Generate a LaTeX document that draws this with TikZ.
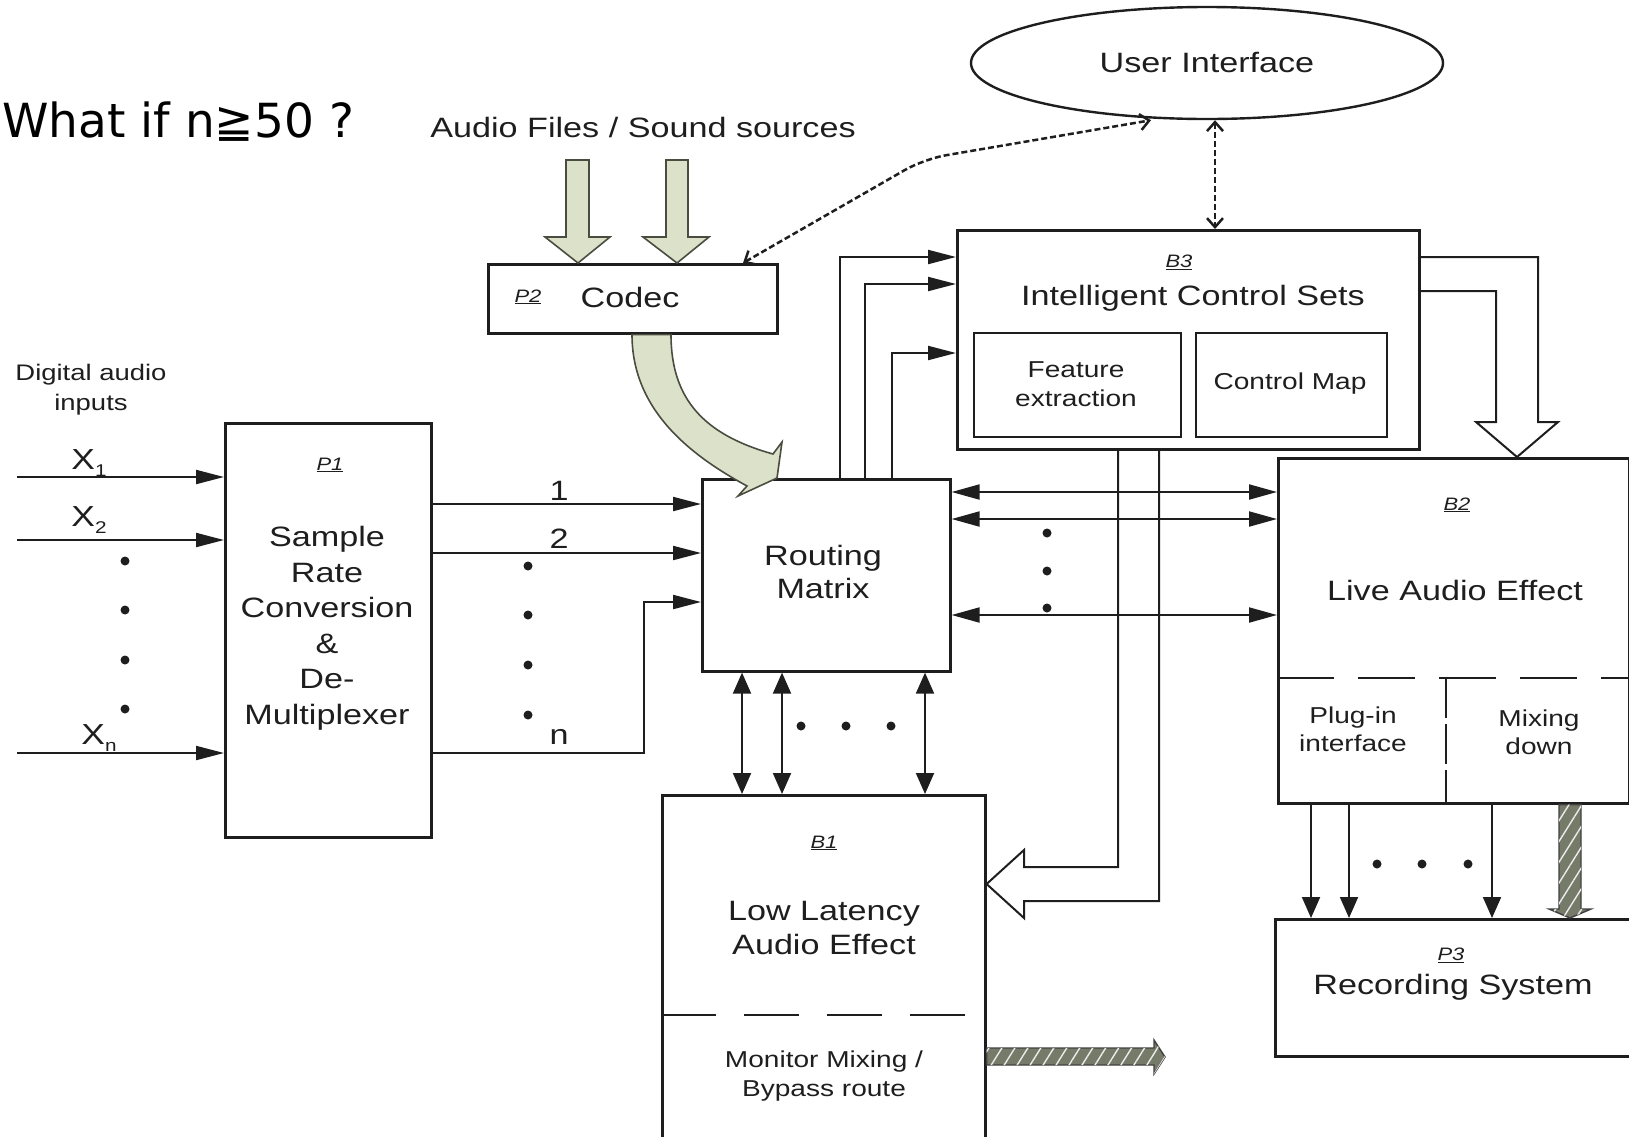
\documentclass[tikz,border=0pt]{standalone}
\usepackage{fontspec}
\setmainfont{Liberation Sans}
\newfontfamily\arx[FakeStretch=1.22]{Liberation Sans}
\newfontfamily\dvs{DejaVu Sans}
\usetikzlibrary{arrows.meta,patterns.meta,shapes.geometric}
\definecolor{ink}{HTML}{1E1E1E}
\definecolor{sage}{HTML}{DCE1C9}
\definecolor{sageline}{HTML}{4A4C40}
\definecolor{hatchfill}{HTML}{767A68}
\newcommand\xsub[1]{X\raisebox{-7pt}{\fontsize{17}{17}\selectfont #1}}

\begin{document}
\begin{tikzpicture}[x=1pt,y=-1pt,
  box/.style={draw=ink, line width=2.6pt, rectangle, inner sep=0pt, anchor=north west},
  t28/.style={font=\arx\fontsize{28}{34}\selectfont, text=ink, align=center, inner sep=0pt},
  t23/.style={font=\arx\fontsize{23}{29}\selectfont, text=ink, align=center, inner sep=0pt},
  t21/.style={font=\arx\fontsize{22.5}{30}\selectfont, text=ink, align=center, inner sep=0pt},
  tag/.style={font=\arx\itshape\fontsize{18}{20}\selectfont, text=ink, inner sep=0pt},
  dot/.style={circle, fill=ink, inner sep=0pt, minimum size=9pt},
  wire/.style={draw=ink, line width=2pt},
  harr/.style={wire, -{Triangle[length=28pt,width=14pt]}},
  hdbl/.style={wire, {Triangle[length=28pt,width=15pt]}-{Triangle[length=28pt,width=15pt]}},
  varr/.style={wire, -{Triangle[length=21pt,width=18pt]}},
  vdbl/.style={wire, {Triangle[length=21pt,width=18pt]}-{Triangle[length=21pt,width=18pt]}},
  dotted link/.style={draw=ink, line width=2.5pt, dash pattern=on 6pt off 3pt,
    {Straight Barb[length=9pt,width=16pt]}-{Straight Barb[length=9pt,width=16pt]}},
  hollow/.style={draw=ink, line width=2pt, line join=miter},
  greenarrow/.style={fill=sage, draw=sageline, line width=1.6pt, line join=miter},
  hatched/.style={fill=hatchfill, draw=ink!85, line width=1.4pt},
  hatchlines/.style={pattern={Lines[angle=58,distance=11pt,line width=1.4pt]}, pattern color=white!85!gray},
]
\useasboundingbox (0,0) rectangle (1629,1136);
\clip (0,0) rectangle (1629,1136);

% ---------- headings ----------
\node[anchor=base west, inner sep=0pt, font=\dvs\fontsize{47}{50}\selectfont, text=black]
  (question) at (2,137) {What if n≧50 ?};
\node[anchor=base, t28] (srclbl) at (643,137) {Audio Files / Sound sources};
\node[t21] (inlbl) at (91,390) {Digital audio\\inputs};

% ---------- blocks ----------
\node[box, minimum width=206pt, minimum height=414pt] (p1) at (224,422) {};
\node[tag] (p1tag) at (330,465) {\underline{P1}};
\node[t28, font=\arx\fontsize{28}{35.5}\selectfont] (p1txt) at (327,628)
  {Sample\\Rate\\Conversion\\\&\\De-\\Multiplexer};

\node[box, minimum width=289pt, minimum height=69pt] (p2) at (487,263) {};
\node[tag] (p2tag) at (528,297) {\underline{P2}};
\node[t28] (p2txt) at (630,297) {Codec};

\node[box, minimum width=248pt, minimum height=192pt] (rm) at (701,478) {};
\node[t28, font=\arx\fontsize{28}{33}\selectfont] (rmtxt) at (823,572) {Routing\\Matrix};

\node[box, minimum width=462pt, minimum height=219pt] (b3) at (956,229) {};
\node[tag] (b3tag) at (1179,262) {\underline{B3}};
\node[t28] (b3txt) at (1193,298) {Intelligent Control Sets};
\node[box, line width=2.4pt, minimum width=207pt, minimum height=104pt] (fe) at (973,332) {};
\node[t23] (fetxt) at (1076,384) {Feature\\extraction};
\node[box, line width=2.4pt, minimum width=191pt, minimum height=104pt] (cm) at (1195,332) {};
\node[t23] (cmtxt) at (1290,384) {Control Map};

\node[box, minimum width=351pt, minimum height=345pt] (b2) at (1277,457) {};
\node[tag] (b2tag) at (1457,505) {\underline{B2}};
\node[t28] (b2txt) at (1455,590) {Live Audio Effect};
\node[t23, font=\arx\fontsize{23}{28}\selectfont] (plugtxt) at (1353,729) {Plug-in\\interface};
\node[t23, font=\arx\fontsize{23}{28}\selectfont] (mixtxt) at (1539,732) {Mixing\\down};

\node[box, minimum width=376pt, minimum height=137pt] (p3) at (1274,918) {};
\node[tag] (p3tag) at (1451,955) {\underline{P3}};
\node[t28] (p3txt) at (1453,987) {Recording System};

\node[box, minimum width=323pt, minimum height=366pt] (b1) at (661,794) {};
\node[tag] (b1tag) at (824,843) {\underline{B1}};
\node[t28] (b1txt) at (824,928) {Low Latency\\Audio Effect};
\node[t23] (b1sub) at (824,1076) {Monitor Mixing /\\Bypass route};

\node[draw=ink, line width=2.4pt, ellipse, minimum width=472pt, minimum height=112pt,
  inner sep=0pt, t28] (ui) at (1207,63) {User Interface};

% ---------- section dividers ----------
\draw[ink, line width=2.4pt, dash pattern=on 55pt off 28pt] (b1.west |- 0,1015) -- (967,1015);
\draw[ink, line width=2.4pt, dash pattern=on 57pt off 24pt] (b2.west |- 0,678) -- (b2.east |- 0,678);
\draw[ink, line width=2pt, dash pattern=on 40pt off 6pt] (1446,678) -- (b2.south -| 1446,0);

% ---------- digital inputs ----------
\coordinate (ina) at (17,477);
\coordinate (inb) at (17,540);
\coordinate (inn) at (17,753);
\draw[harr] (ina) -- (ina -| p1.west);
\draw[harr] (inb) -- (inb -| p1.west);
\draw[harr] (inn) -- (inn -| p1.west);
\node[t28, font=\arx\fontsize{29}{30}\selectfont] (xla) at (89,463) {\xsub{1}};
\node[t28, font=\arx\fontsize{29}{30}\selectfont] (xlb) at (89,520) {\xsub{2}};
\node[t28, font=\arx\fontsize{29}{30}\selectfont] (xln) at (99,738) {\xsub{n}};
\node[dot] (ida) at (125,561) {};
\node[dot] (idb) at (125,610) {};
\node[dot] (idc) at (125,660) {};
\node[dot] (idd) at (125,709) {};

% ---------- P1 to routing matrix ----------
\draw[harr] (p1.east |- 0,504) -- (rm.west |- 0,504);
\draw[harr] (p1.east |- 0,553) -- (rm.west |- 0,553);
\draw[harr] (p1.east |- 0,753) -| (644,602) -- (rm.west |- 0,602);
\node[t28] (cha) at (559,491) {1};
\node[t28] (chb) at (559,539) {2};
\node[t28] (chn) at (559,737) {n};
\node[dot] (oda) at (528,566) {};
\node[dot] (odb) at (528,615) {};
\node[dot] (odc) at (528,665) {};
\node[dot] (odd) at (528,715) {};

% ---------- routing matrix to B3 ----------
\draw[harr] ([xshift=14pt]rm.north) |- (b3.west |- 0,257);
\draw[harr] ([xshift=39pt]rm.north) |- (b3.west |- 0,284);
\draw[harr] ([xshift=66pt]rm.north) |- (b3.west |- 0,353);

% ---------- routing matrix <-> B2 ----------
\draw[hdbl] (rm.east |- 0,492) -- (b2.west |- 0,492);
\draw[hdbl] (rm.east |- 0,519) -- (b2.west |- 0,519);
\draw[hdbl] (rm.east |- 0,615) -- (b2.west |- 0,615);
\node[dot] (rda) at (1047,533) {};
\node[dot] (rdb) at (1047,571) {};
\node[dot] (rdc) at (1047,608) {};

% ---------- routing matrix <-> B1 ----------
\draw[vdbl] (rm.south -| 742,0) -- (b1.north -| 742,0);
\draw[vdbl] (rm.south -| 782,0) -- (b1.north -| 782,0);
\draw[vdbl] (rm.south -| 925,0) -- (b1.north -| 925,0);
\node[dot] (bda) at (801,726) {};
\node[dot] (bdb) at (846,726) {};
\node[dot] (bdc) at (891,726) {};

% ---------- B2 to recording system ----------
\draw[varr] (b2.south -| 1311,0) -- (p3.north -| 1311,0);
\draw[varr] (b2.south -| 1349,0) -- (p3.north -| 1349,0);
\draw[varr] (b2.south -| 1492,0) -- (p3.north -| 1492,0);
\node[dot] (pda) at (1377,864) {};
\node[dot] (pdb) at (1422,864) {};
\node[dot] (pdc) at (1468,864) {};

% ---------- hollow control arrows out of B3 ----------
\draw[hollow] (b3.south -| 1118,0) -- (1118,867) -- (1024,867) -- (1024,850)
  -- (b1.east |- 0,884) -- (1024,918) -- (1024,901) -- (1159,901) -- (b3.south -| 1159,0);
\draw[hollow] (b3.east |- 0,257) -- (1538,257) -- (1538,422) -- (1558,422)
  -- (b2.north -| 1517,0) -- (1476,422) -- (1496,422) -- (1496,291) -- (b3.east |- 0,291);

% ---------- user interface links ----------
\draw[dotted link, rounded corners=22pt] (p2.north -| 743,0) -- (924,159) -- (ui.south -| 1151,0);
\draw[dotted link] (ui.south -| 1215,0) -- (b3.north -| 1215,0);

% ---------- audio sources into the codec ----------
\draw[greenarrow] (566,160) -- (589,160) -- (589,237) -- (610,237) -- (p2.north -| 578,0)
  -- (545,237) -- (566,237) -- cycle;
\draw[greenarrow] (666,160) -- (688,160) -- (688,237) -- (709,237) -- (p2.north -| 677,0)
  -- (643,237) -- (666,237) -- cycle;

% ---------- codec into the routing matrix ----------
\draw[greenarrow] (p2.south -| 632,0) .. controls (632,410) and (690,455) .. (747,486)
  -- (738,496) -- (rm.north -| 777,0) -- (782,442) -- (773,454)
  .. controls (705,435) and (671,400) .. (p2.south -| 671,0) -- cycle;

% ---------- hatched outputs ----------
\path[hatched] (b1.east |- 0,1048) -- (1154,1048) -- (1154,1040) -- (1165,1057)
  -- (1154,1074) -- (1154,1065) -- (b1.east |- 0,1065) -- cycle;
\path[hatchlines] (b1.east |- 0,1048) -- (1154,1048) -- (1154,1040) -- (1165,1057)
  -- (1154,1074) -- (1154,1065) -- (b1.east |- 0,1065) -- cycle;
\path[hatched] (b2.south -| 1559,0) -- (1559,909) -- (1549,909) -- (p3.north -| 1570,0)
  -- (1591,909) -- (1581,909) -- (b2.south -| 1581,0) -- cycle;
\path[hatchlines] (b2.south -| 1559,0) -- (1559,909) -- (1549,909) -- (p3.north -| 1570,0)
  -- (1591,909) -- (1581,909) -- (b2.south -| 1581,0) -- cycle;
\end{tikzpicture}
\end{document}
